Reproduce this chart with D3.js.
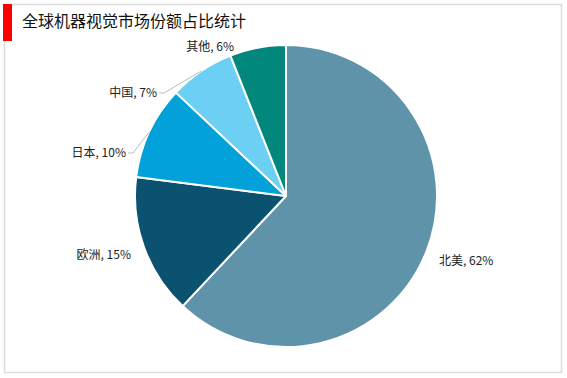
<!DOCTYPE html>
<html><head><meta charset="utf-8">
<script src="https://cdn.jsdelivr.net/npm/d3@7"></script>
<style>
html,body{margin:0;padding:0;background:#fff;}
svg{display:block;}
text{font-family:"Noto Sans CJK SC","Microsoft YaHei",sans-serif;}
</style></head>
<body>
<script>
const title = "全球机器视觉市场份额占比统计";
const categories = ["北美", "欧洲", "日本", "中国", "其他"];
const values = [62, 15, 10, 7, 6];
const colors = ["#5f93a9", "#0b5170", "#02a1da", "#6ccff4", "#02877c"];

const W = 567, H = 378;
const cx = 286, cy = 196, R = 151;

const svg = d3.select("body").append("svg").attr("width", W).attr("height", H);

// frame
svg.append("rect").attr("x", 4.5).attr("y", 4.5).attr("width", 557).attr("height", 368)
  .attr("fill", "#fff").attr("stroke", "#dcdcdc").attr("stroke-width", 1.5);
svg.append("rect").attr("x", 3).attr("y", 4).attr("width", 9).attr("height", 37).attr("fill", "#f00");
svg.append("text").attr("x", 22).attr("y", 27).attr("font-size", 16).attr("fill", "#111").text(title);

const data = categories.map((c, i) => ({name: c, value: values[i], color: colors[i]}));
const pie = d3.pie().value(d => d.value).sort(null);
const arcs = pie(data);
const arc = d3.arc().innerRadius(0).outerRadius(R);

const g = svg.append("g").attr("transform", `translate(${cx},${cy})`);
g.selectAll("path").data(arcs).join("path")
  .attr("d", arc).attr("fill", d => d.data.color)
  .attr("stroke", "#fff").attr("stroke-width", 2).attr("stroke-linejoin", "round");

// label layout (positions of text relative to chart), anchor, and whether leader line
const labelLayout = [
  {x: 439, y: 265, anchor: "start", leader: false},
  {x: 131, y: 259, anchor: "end", leader: false},
  {x: 126, y: 157, anchor: "end", leader: true},
  {x: 157, y: 97, anchor: "end", leader: true},
  {x: 234, y: 51, anchor: "end", leader: false}
];

arcs.forEach((a, i) => {
  const L = labelLayout[i];
  const txt = `${a.data.name}, ${a.data.value}%`;
  svg.append("text").attr("x", L.x).attr("y", L.y).attr("text-anchor", L.anchor)
    .attr("font-size", 12).attr("fill", "#222").text(txt);
  if (L.leader) {
    const mid = (a.startAngle + a.endAngle) / 2;
    const ex = cx + R * Math.sin(mid), ey = cy - R * Math.cos(mid);
    const ly = L.y - 4;
    svg.append("polyline")
      .attr("points", `${L.x + 2},${ly} ${L.x + 7},${ly} ${ex},${ey}`)
      .attr("fill", "none").attr("stroke", "#bdbdbd").attr("stroke-width", 1);
  }
});
</script>
</body></html>
